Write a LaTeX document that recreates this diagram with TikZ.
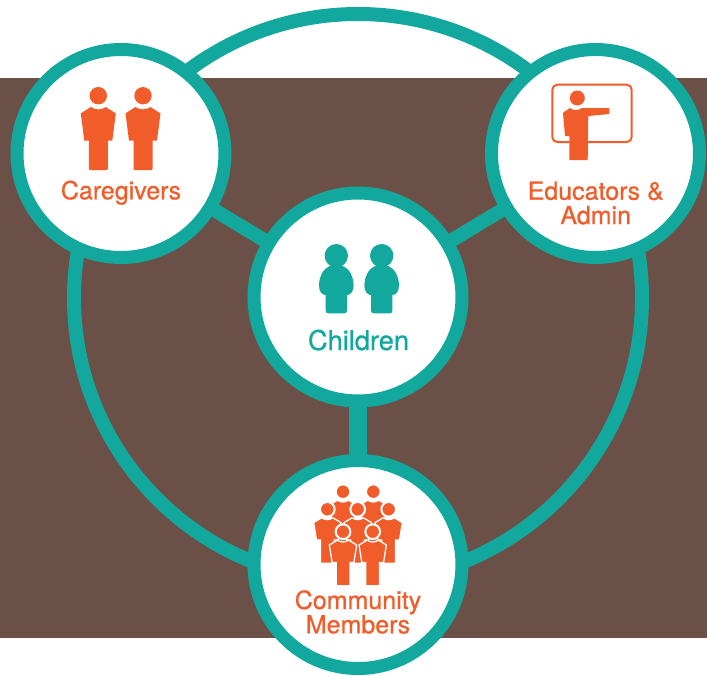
\documentclass[tikz,border=0pt]{standalone}
\usepackage{fontspec}
\setmainfont{TeX Gyre Heros}
\newfontfamily\labfont[RawFeature={embolden=0.7}]{TeX Gyre Heros}
\usetikzlibrary{backgrounds}
\definecolor{teal1}{HTML}{12A89D}
\definecolor{brown1}{HTML}{6B5047}
\definecolor{orange1}{HTML}{F15D2A}
\tikzset{
  x=1pt,y=-1pt,
  hub/.style={circle,draw=teal1,fill=white,line width=13pt,minimum size=208pt,inner sep=0pt},
  link/.style={draw=teal1,line width=14pt},
  lab/.style={text=orange1,inner sep=0pt,align=center,font=\labfont\fontsize{25}{24.4}\selectfont},
  adult/.pic={
    \fill (0,0) circle (8.7);
    \fill (-17.5,17.7) -- (-7.5,11.3) .. controls (-3,14.5) and (3,14.5) .. (7.5,11.3)
      -- (17.5,17.7) -- (14,45) -- (9.5,45) -- (9.5,73.3) .. controls (9.5,74) and (9,74.3) .. (8.5,74.3)
      -- (-8.5,74.3) .. controls (-9,74.3) and (-9.5,74) .. (-9.5,73.3) -- (-9.5,45) -- (-14,45) -- cycle;
  },
  crowd/.pic={
    \path[fill=orange1,draw=white,line width=1.3pt] (-18.2,17.7) -- (-7.5,11.3) .. controls (-3,14.5) and (3,14.5) .. (7.5,11.3)
      -- (18.2,17.7) -- (14.5,41) -- (9.2,41) -- (9.2,72) -- (-9.2,72) -- (-9.2,41) -- (-14.5,41) -- cycle;
    \path[fill=orange1,draw=white,line width=2pt] (0,0) circle (9.8);
  },
  kid/.pic={
    \fill (0,0) circle (11.7);
    \fill (-7,10.5) .. controls (-13,13) and (-17.3,21) .. (-17.3,30)
      .. controls (-17.3,36) and (-14,39.3) .. (-10.7,39.3) -- (-10.7,54.7)
      .. controls (-10.7,56.7) and (-9.7,57.7) .. (-7.7,57.7) -- (7.7,57.7)
      .. controls (9.7,57.7) and (10.7,56.7) .. (10.7,54.7) -- (10.7,39.3)
      .. controls (14,39.3) and (17.3,36) .. (17.3,30)
      .. controls (17.3,21) and (13,13) .. (7,10.5) -- cycle;
  }
}
\begin{document}
\begin{tikzpicture}
\useasboundingbox (0,0) rectangle (707,675);
\node[hub] (care) at (121,153.5) {};
\node[hub] (edu) at (595.5,153.5) {};
\node[hub] (child) at (358,297) {};
\node[hub] (comm) at (358,564.5) {};
\begin{scope}[on background layer]
  \fill[brown1] (0,78) rectangle (707,638);
  \coordinate (mid) at (358,298);
  \draw[teal1,line width=14pt] (mid) circle (284);
  \draw[link] (child.center) -- (care.center);
  \draw[link] (child.center) -- (edu.center);
  \draw[link,line width=18.5pt] (child.center) -- (comm.center);
\end{scope}
% caregivers
\pic[orange1] at (98.3,95.7) {adult};
\pic[orange1] at (143,95.7) {adult};
\node[lab,anchor=base] (careL) at (121,199.3) {Caregivers};
% educators
\draw[orange1,line width=2pt,rounded corners=5pt] (552.3,84.7) rectangle (631.7,142);
\fill[orange1] (577.3,98) circle (7.5);
\fill[orange1] (563,112.7) -- (570,108) .. controls (573,110.5) and (578,111) .. (581.7,108) -- (609.3,108) -- (609.3,114)
  -- (588.3,116) -- (587.7,160) -- (569.3,160) -- (569.3,136) -- (565,136) -- cycle;
\node[lab] (eduL) at (595.7,203) {Educators \&\\Admin};
% children
\pic[teal1] at (336.3,255.7) {kid};
\pic[teal1] at (381.7,255.7) {kid};
\node[lab,anchor=base,text=teal1,font=\labfont\fontsize{27.2}{28}\selectfont] (childL) at (358.5,350) {Children};
% community
\pic[scale=.75] at (343,491.7) {crowd};
\pic[scale=.75] at (373.3,491.7) {crowd};
\pic[scale=.75] at (327.3,509.3) {crowd};
\pic[scale=.75] at (388.7,509.3) {crowd};
\pic[scale=.75] at (357.7,509.3) {crowd};
\pic[scale=.75] at (343,531.7) {crowd};
\pic[scale=.75] at (372.7,531.7) {crowd};
\node[lab] (commL) at (358,612) {Community\\Members};
\end{tikzpicture}
\end{document}
